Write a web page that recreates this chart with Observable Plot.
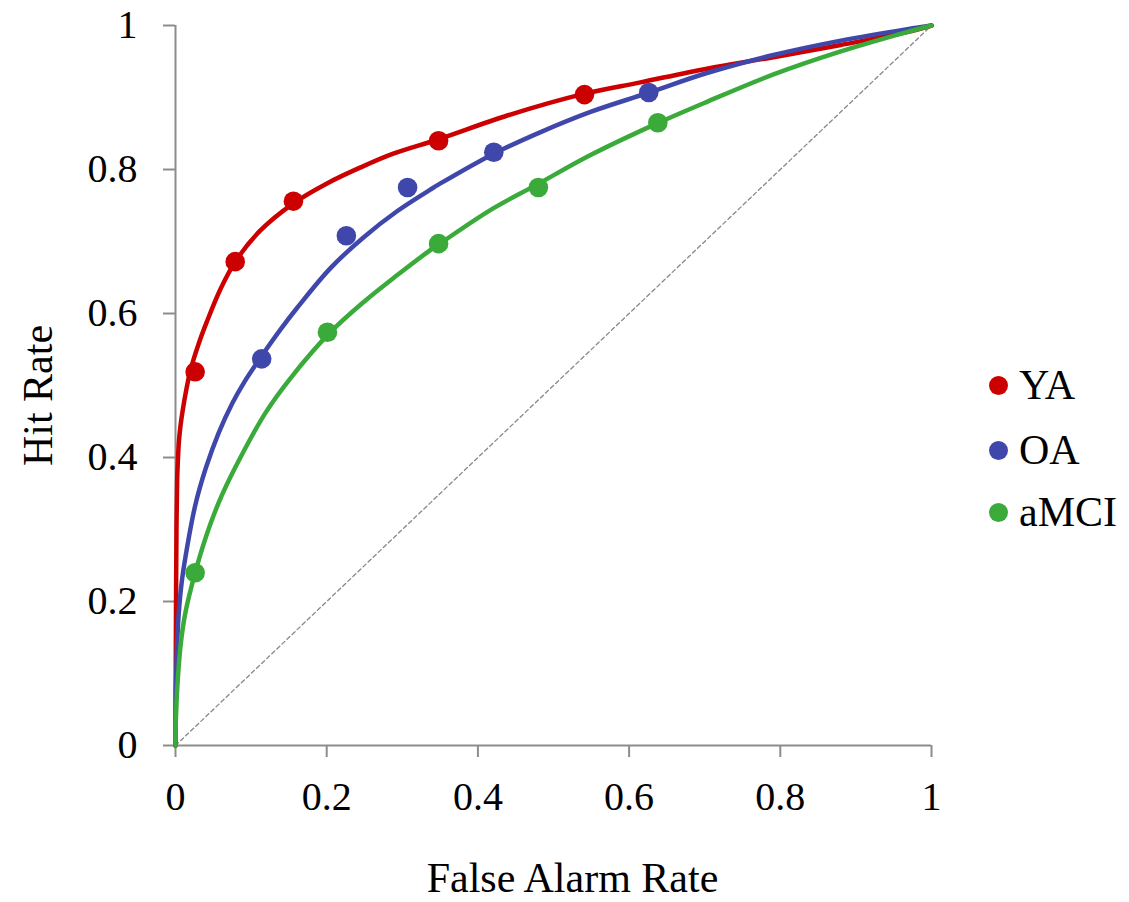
<!DOCTYPE html>
<html>
<head>
<meta charset="utf-8">
<script src="https://cdn.jsdelivr.net/npm/d3@7"></script>
<script src="https://cdn.jsdelivr.net/npm/@observablehq/plot@0.6"></script>
<style>
  body { margin: 0; background: #fff; }
  #wrap { position: relative; width: 1129px; height: 902px; font-family: "Liberation Serif", "Times New Roman", serif; }
  #wrap svg { position: absolute; left: 0; top: 0; }
  .item { position: absolute; left: 989px; height: 50px; display: flex; align-items: center; white-space: nowrap; font-size: 42px; color: #000; }
  .sw { width: 19px; height: 19px; border-radius: 50%; margin-right: 11px; flex: none; }
</style>
</head>
<body>
<div id="wrap"></div>
<script>
// ---- data ----
const groups = ["YA", "OA", "aMCI"];
const colors = ["#CC0000", "#3F48AA", "#3AAA3A"];
const xTicks = [0, 0.2, 0.4, 0.6, 0.8, 1];
const yTicks = [0, 0.2, 0.4, 0.6, 0.8, 1];
const xLabel = "False Alarm Rate";
const yLabel = "Hit Rate";

// observed points (false alarm rate, hit rate)
const yaFA   = [0.026, 0.079, 0.156, 0.348, 0.541];
const yaHit  = [0.519, 0.672, 0.756, 0.840, 0.904];
const oaFA   = [0.114, 0.226, 0.307, 0.421, 0.626];
const oaHit  = [0.537, 0.708, 0.775, 0.824, 0.907];
const mciFA  = [0.026, 0.201, 0.348, 0.480, 0.638];
const mciHit = [0.240, 0.574, 0.697, 0.775, 0.865];

// fitted ROC curves
const yaCurveFA  = [0, 0.0003, 0.0007, 0.0013, 0.0022, 0.003, 0.0045, 0.0065, 0.009, 0.015, 0.020, 0.030, 0.042, 0.060, 0.079, 0.112, 0.156, 0.201, 0.245, 0.288, 0.348, 0.439, 0.540, 0.615, 0.703, 0.791, 0.880, 0.968, 1];
const yaCurveHit = [0, 0.100, 0.200, 0.300, 0.370, 0.392, 0.422, 0.443, 0.462, 0.498, 0.522, 0.556, 0.590, 0.635, 0.672, 0.715, 0.753, 0.781, 0.803, 0.822, 0.842, 0.875, 0.905, 0.921, 0.940, 0.956, 0.973, 0.991, 1];
const oaCurveFA  = [0, 0.0004, 0.001, 0.002, 0.0044, 0.008, 0.0132, 0.026, 0.040, 0.057, 0.075, 0.090, 0.114, 0.139, 0.161, 0.205, 0.249, 0.293, 0.337, 0.351, 0.421, 0.483, 0.549, 0.624, 0.703, 0.791, 0.880, 0.968, 1];
const oaCurveHit = [0, 0.070, 0.100, 0.138, 0.185, 0.225, 0.262, 0.333, 0.385, 0.434, 0.475, 0.503, 0.541, 0.578, 0.608, 0.663, 0.706, 0.742, 0.772, 0.781, 0.822, 0.852, 0.880, 0.906, 0.934, 0.959, 0.979, 0.995, 1];
const mciCurveFA  = [0, 0.0003, 0.001, 0.002, 0.0066, 0.013, 0.026, 0.040, 0.057, 0.079, 0.119, 0.152, 0.203, 0.249, 0.293, 0.337, 0.351, 0.417, 0.478, 0.549, 0.637, 0.703, 0.791, 0.880, 0.968, 1];
const mciCurveHit = [0, 0.030, 0.050, 0.074, 0.138, 0.184, 0.240, 0.289, 0.337, 0.386, 0.462, 0.510, 0.572, 0.616, 0.653, 0.688, 0.698, 0.744, 0.779, 0.820, 0.864, 0.894, 0.932, 0.964, 0.991, 1];

// chance diagonal
const diagFA  = [0, 1];
const diagHit = [0, 1];

// ---- build tables ----
const pts = [
  [groups[0], yaFA, yaHit],
  [groups[1], oaFA, oaHit],
  [groups[2], mciFA, mciHit]
].flatMap(([g, xs, ys]) => xs.map((x, i) => ({group: g, x, y: ys[i]})));

const curves = [
  [groups[0], yaCurveFA, yaCurveHit],
  [groups[1], oaCurveFA, oaCurveHit],
  [groups[2], mciCurveFA, mciCurveHit]
].flatMap(([g, xs, ys]) => xs.map((x, i) => ({group: g, x, y: ys[i]})));

const diag = diagFA.map((x, i) => ({x, y: diagHit[i]}));

const axisGray = "#8c8c8c";

const chart = Plot.plot({
  width: 1129,
  height: 902,
  marginLeft: 175,
  marginRight: 198,
  marginTop: 25,
  marginBottom: 157,
  x: {domain: [0, 1]},
  y: {domain: [0, 1]},
  color: {domain: groups, range: colors},
  style: {fontFamily: "'Liberation Serif', 'Times New Roman', serif", fontSize: "40px", color: "#000", background: "transparent", overflow: "visible"},
  marks: [
    Plot.line(diag, {x: "x", y: "y", stroke: "#888", strokeWidth: 1.3, strokeDasharray: "4,3"}),
    Plot.ruleY([0], {stroke: axisGray, strokeWidth: 2}),
    Plot.ruleX([0], {stroke: axisGray, strokeWidth: 2}),
    Plot.axisX({ticks: xTicks, tickSize: 12, tickPadding: 24, tickFormat: d => String(d), stroke: axisGray, strokeWidth: 2, fill: "#000", fontSize: 40, label: null}),
    Plot.axisY({ticks: yTicks, tickSize: 12, tickPadding: 26, tickFormat: d => String(d), stroke: axisGray, strokeWidth: 2, fill: "#000", fontSize: 40, label: null}),
    Plot.line(curves, {x: "x", y: "y", z: "group", stroke: "group", strokeWidth: 4.5, curve: "catmull-rom"}),
    Plot.dot(pts, {x: "x", y: "y", fill: "group", r: 9.8}),
    Plot.text([xLabel], {frameAnchor: "bottom", dx: 19, dy: 133, textAnchor: "middle", lineAnchor: "middle", fontSize: 42, fill: "#000"}),
    Plot.text([yLabel], {frameAnchor: "left", dx: -137, dy: 10, textAnchor: "middle", lineAnchor: "middle", rotate: -90, fontSize: 42, fill: "#000"})
  ]
});

const wrap = document.getElementById("wrap");
wrap.appendChild(chart);

// legend
const legendY = [385, 450, 512];
groups.forEach((g, i) => {
  const item = document.createElement("div");
  item.className = "item";
  item.style.top = (legendY[i] - 25) + "px";
  const sw = document.createElement("span");
  sw.className = "sw";
  sw.style.background = colors[i];
  const t = document.createElement("span");
  t.textContent = g;
  item.appendChild(sw);
  item.appendChild(t);
  wrap.appendChild(item);
});
</script>
</body>
</html>
